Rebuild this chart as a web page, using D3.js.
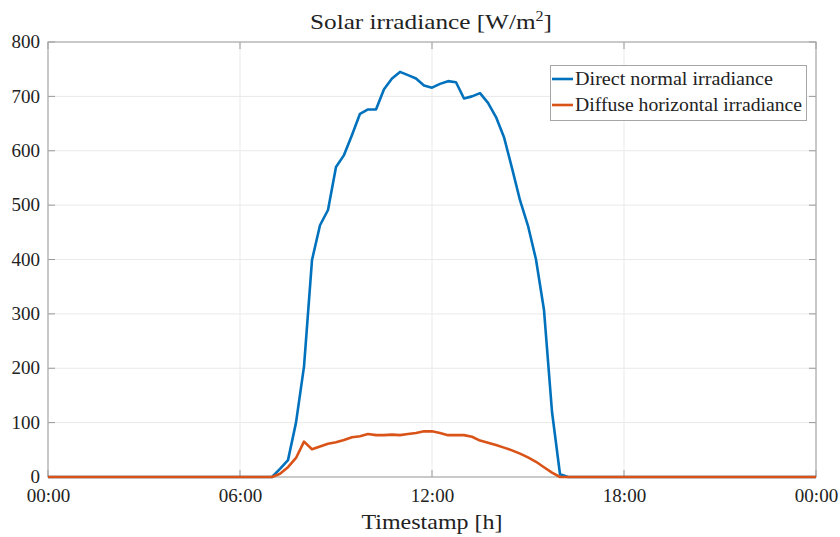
<!DOCTYPE html>
<html>
<head>
<meta charset="utf-8">
<script src="https://cdn.jsdelivr.net/npm/d3@7"></script>
<style>
  html, body { margin: 0; padding: 0; background: #fff; }
  svg { display: block; }
  text { font-family: "Liberation Serif", "DejaVu Serif", serif; fill: #222; }
</style>
</head>
<body>
<svg id="chart" width="840" height="537"></svg>
<script>
// Time of day in hours (15-minute samples during daylight, zero at night)
const timeHours = [0,
  7.00, 7.25, 7.50, 7.75, 8.00, 8.25, 8.50, 8.75, 9.00, 9.25, 9.50, 9.75,
  10.00, 10.25, 10.50, 10.75, 11.00, 11.25, 11.50, 11.75, 12.00, 12.25, 12.50, 12.75,
  13.00, 13.25, 13.50, 13.75, 14.00, 14.25, 14.50, 14.75, 15.00, 15.25, 15.50, 15.75,
  16.00, 16.25,
  24];

// Direct normal irradiance [W/m^2]
const dni = [0,
  0, 15, 31, 100, 203, 399, 463, 491, 570, 592, 629, 668,
  676, 676, 713, 733, 745, 739, 733, 720, 716, 723, 728, 726,
  696, 700, 706, 688, 662, 625, 568, 509, 462, 400, 307, 120,
  5, 0,
  0];

// Diffuse horizontal irradiance [W/m^2]
const dhi = [0,
  0, 6, 18, 35, 65, 51, 56, 61, 64, 68, 73, 75,
  79, 77, 77, 78, 77, 79, 81, 84, 84, 81, 77, 77,
  77, 74, 67, 63, 59, 54, 49, 43, 36, 28, 18, 8,
  0, 0,
  0];

const xTickHours = [0, 6, 12, 18, 24];
const xTickLabels = ["00:00", "06:00", "12:00", "18:00", "00:00"];
const yTicks = [0, 100, 200, 300, 400, 500, 600, 700, 800];

const seriesNames = ["Direct normal irradiance", "Diffuse horizontal irradiance"];
const seriesColors = ["#0072BD", "#D95319"];

const svg = d3.select("#chart");
const m = { left: 48, right: 816, top: 42, bottom: 477 };

const x = d3.scaleLinear().domain([0, 24]).range([m.left, m.right]);
const y = d3.scaleLinear().domain([0, 800]).range([m.bottom, m.top]);

// grid lines
const grid = svg.append("g");
grid.selectAll("line.gx").data(xTickHours.slice(1, -1)).join("line")
  .attr("x1", d => x(d)).attr("x2", d => x(d))
  .attr("y1", m.top).attr("y2", m.bottom)
  .attr("stroke", "#e9e9e9").attr("stroke-width", 1);
grid.selectAll("line.gy").data(yTicks.slice(1, -1)).join("line")
  .attr("x1", m.left).attr("x2", m.right)
  .attr("y1", d => y(d)).attr("y2", d => y(d))
  .attr("stroke", "#e9e9e9").attr("stroke-width", 1);

// axes
const xAxis = d3.axisBottom(x).tickValues(xTickHours)
  .tickFormat((d, i) => xTickLabels[i]).tickSize(0).tickPadding(12);
const yAxis = d3.axisLeft(y).tickValues(yTicks).tickSize(0).tickPadding(8);

const gx = svg.append("g").attr("transform", `translate(0,${m.bottom})`).call(xAxis);
const gy = svg.append("g").attr("transform", `translate(${m.left},0)`).call(yAxis);
[gx, gy].forEach(g => {
  g.select(".domain").remove();
  g.selectAll("text").style("font-family", "'Liberation Serif', serif")
    .style("font-size", "19px").attr("fill", "#222");
});
gy.selectAll("text").attr("dy", "0.30em");

// inner tick marks on all four sides
const tk = svg.append("g").attr("stroke", "#9a9a9a").attr("stroke-width", 1);
xTickHours.forEach(h => {
  tk.append("line").attr("x1", x(h)).attr("x2", x(h)).attr("y1", m.bottom).attr("y2", m.bottom - 7);
  tk.append("line").attr("x1", x(h)).attr("x2", x(h)).attr("y1", m.top).attr("y2", m.top + 7);
});
yTicks.forEach(v => {
  tk.append("line").attr("x1", m.left).attr("x2", m.left + 7).attr("y1", y(v)).attr("y2", y(v));
  tk.append("line").attr("x1", m.right).attr("x2", m.right - 7).attr("y1", y(v)).attr("y2", y(v));
});

// box
svg.append("rect")
  .attr("x", m.left).attr("y", m.top)
  .attr("width", m.right - m.left).attr("height", m.bottom - m.top)
  .attr("fill", "none").attr("stroke", "#a6a6a6").attr("stroke-width", 1.2);

// series lines
const line = d3.line().x((d, i) => x(timeHours[i])).y(d => y(d));
[dni, dhi].forEach((vals, k) => {
  svg.append("path").datum(vals)
    .attr("d", line)
    .attr("fill", "none")
    .attr("stroke", seriesColors[k])
    .attr("stroke-width", 2.6)
    .attr("stroke-linejoin", "round");
});

// title and axis label
const title = svg.append("text").attr("x", 431).attr("y", 29)
  .attr("text-anchor", "middle").style("font-size", "22px")
  .attr("textLength", 242).attr("lengthAdjust", "spacingAndGlyphs");
title.append("tspan").text("Solar irradiance [W/m");
title.append("tspan").text("2").attr("dy", -8).style("font-size", "14px");
title.append("tspan").text("]").attr("dy", 8);

svg.append("text").attr("x", 432).attr("y", 529)
  .attr("text-anchor", "middle").style("font-size", "22px")
  .attr("textLength", 141).attr("lengthAdjust", "spacingAndGlyphs")
  .text("Timestamp [h]");

// legend
const legendWidths = [198, 227];
const lg = svg.append("g");
lg.append("rect").attr("x", 550.5).attr("y", 65.5).attr("width", 256).attr("height", 55)
  .attr("fill", "#fff").attr("stroke", "#a6a6a6").attr("stroke-width", 1);
seriesNames.forEach((name, k) => {
  const cy = 79 + k * 26;
  lg.append("line").attr("x1", 552).attr("x2", 573).attr("y1", cy).attr("y2", cy)
    .attr("stroke", seriesColors[k]).attr("stroke-width", 2.6);
  lg.append("text").attr("x", 575).attr("y", cy + 6).style("font-size", "18px")
    .attr("textLength", legendWidths[k]).attr("lengthAdjust", "spacingAndGlyphs")
    .text(name);
});
</script>
</body>
</html>
